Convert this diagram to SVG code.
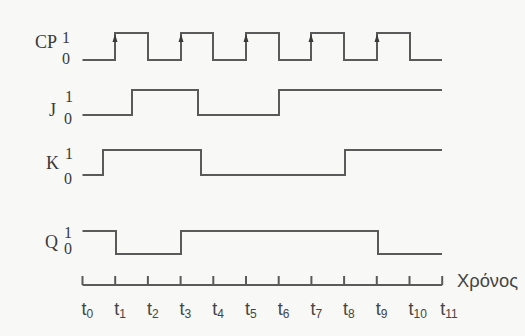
<svg xmlns="http://www.w3.org/2000/svg" width="525" height="336" viewBox="0 0 525 336">
  <defs>
    <style>
      .sig { fill: none; stroke: #5a5a5a; stroke-width: 2; stroke-linejoin: miter; }
      .lbl { font-family: "Liberation Serif", "DejaVu Serif", serif; fill: #3a3a3a; }
      .big { font-size: 18px; }
      .lvl { font-size: 16px; }
      .tl { font-family: "Liberation Sans", "DejaVu Sans", sans-serif; fill: #444; font-size: 18px; }
      .sub { font-size: 12px; }
      .arr { fill: #3a3a3a; }
    </style>
  </defs>
  <rect width="525" height="336" fill="#f8f8f6"/>

  <g id="cp">
    <text class="lbl big" x="35" y="48">CP</text>
    <text class="lbl lvl" x="62" y="43">1</text>
    <text class="lbl lvl" x="62" y="64">0</text>
    <path class="sig" d="M82.5,60 H115 V33 H148 V60 H181 V33 H213 V60 H246 V33 H279 V60 H311 V33 H344 V60 H377 V33 H410 V60 H442"/>
    <path class="arr" d="M115,34 L112.5,42 L117.5,42 Z M181,34 L178.5,42 L183.5,42 Z M246,34 L243.5,42 L248.5,42 Z M311,34 L308.5,42 L313.5,42 Z M377,34 L374.5,42 L379.5,42 Z"/>
  </g>

  <g id="j">
    <text class="lbl big" x="49" y="116">J</text>
    <text class="lbl lvl" x="65" y="102">1</text>
    <text class="lbl lvl" x="64" y="124">0</text>
    <path class="sig" d="M82.5,115 H132 V90 H198 V115 H279 V90 H442"/>
  </g>

  <g id="k">
    <text class="lbl big" x="46" y="169">K</text>
    <text class="lbl lvl" x="65" y="159">1</text>
    <text class="lbl lvl" x="64" y="184">0</text>
    <path class="sig" d="M82.5,175 H103 V150 H201 V175 H345 V150 H442"/>
  </g>

  <g id="q">
    <text class="lbl big" x="45" y="248">Q</text>
    <text class="lbl lvl" x="64" y="238">1</text>
    <text class="lbl lvl" x="64" y="254">0</text>
    <path class="sig" d="M82.5,231 H116 V254 H181 V231 H378 V254 H442"/>
  </g>

  <g id="axis">
    <path class="sig" d="M82.5,285 H442.2 M82.5,276 V285 M115.2,276 V285 M147.9,276 V285 M180.6,276 V285 M213.3,276 V285 M246,276 V285 M278.7,276 V285 M311.4,276 V285 M344.1,276 V285 M376.8,276 V285 M409.5,276 V285 M442.2,276 V285"/>
    <text class="tl" x="457" y="287" textLength="61" lengthAdjust="spacingAndGlyphs">Χρόνος</text>
    <text class="tl" x="81.5" y="315">t<tspan class="sub" dy="3">0</tspan></text>
    <text class="tl" x="114.2" y="315">t<tspan class="sub" dy="3">1</tspan></text>
    <text class="tl" x="146.9" y="315">t<tspan class="sub" dy="3">2</tspan></text>
    <text class="tl" x="179.6" y="315">t<tspan class="sub" dy="3">3</tspan></text>
    <text class="tl" x="212.3" y="315">t<tspan class="sub" dy="3">4</tspan></text>
    <text class="tl" x="245" y="315">t<tspan class="sub" dy="3">5</tspan></text>
    <text class="tl" x="277.7" y="315">t<tspan class="sub" dy="3">6</tspan></text>
    <text class="tl" x="310.4" y="315">t<tspan class="sub" dy="3">7</tspan></text>
    <text class="tl" x="343.1" y="315">t<tspan class="sub" dy="3">8</tspan></text>
    <text class="tl" x="375.8" y="315">t<tspan class="sub" dy="3">9</tspan></text>
    <text class="tl" x="408.5" y="315">t<tspan class="sub" dy="3">10</tspan></text>
    <text class="tl" x="440.2" y="315">t<tspan class="sub" dy="3">11</tspan></text>
  </g>
</svg>
